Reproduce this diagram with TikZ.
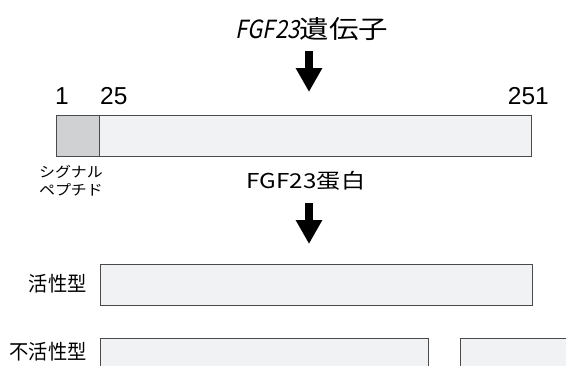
\documentclass[tikz,border=0pt]{standalone}
\usepackage{fontspec}
\setmainfont{Liberation Sans}
\newfontfamily\jp{Noto Sans CJK JP}
\newfontfamily\jpwide{Noto Sans CJK JP}[FakeStretch=1.18]
\newfontfamily\jpsmall{Noto Sans CJK JP}[FakeStretch=1.1]
\newfontfamily\jplab{Noto Sans CJK JP}[FakeStretch=0.94]
\newfontfamily\jpit{Noto Sans CJK JP}[FakeSlant=0.2,FakeStretch=0.88]
\usetikzlibrary{arrows.meta}
\definecolor{barfill}{HTML}{F1F2F4}
\definecolor{sigfill}{HTML}{D0D1D3}
\definecolor{barline}{HTML}{4A4A4A}
\tikzset{
  bar/.style={draw=barline, fill=barfill, line width=1.2pt},
  sigbar/.style={draw=barline, fill=sigfill, line width=1.2pt},
  num/.style={font=\fontsize{24.5}{28}\selectfont, inner sep=0pt, anchor=base},
  jplabel/.style={font=\jplab\fontsize{20.5}{24}\selectfont, inner sep=0pt},
  blockarrow/.style={line width=8pt, -{Triangle[length=24pt,width=25pt]}},
}
\begin{document}
\begin{tikzpicture}[x=1pt,y=-1pt]
\useasboundingbox (0,0) rectangle (566,365);
\fill[white] (0,0) rectangle (566,365);
% title
\node[inner sep=0pt, font=\fontsize{25}{28}\selectfont] (gene) at (312,29)
  {{\jpit FGF23}{\jpwide 遺伝子}};
\coordinate (a1s) at (309,51);
\coordinate (a1e) at (309,92);
\draw[blockarrow] (a1s) -- (a1e);
% numbers
\node[num] (n1) at (62,104) {1};
\node[num, anchor=base west] (n25) at (100,104) {25};
\node[num, anchor=base east] (n251) at (549,104) {251};
% main bar
\begin{scope}
\clip (0,0) rectangle (566,365);
\node[bar, minimum width=475pt, minimum height=41pt, anchor=north west, inner sep=0pt] (main) at (56,115) {};
\node[sigbar, minimum width=43pt, minimum height=41pt, anchor=north west, inner sep=0pt] (sig) at (56,115) {};
\end{scope}
% signal peptide label
\node[font=\jpsmall\fontsize{14.5}{18}\selectfont, inner sep=0pt, align=center] (siglab) at (71,180.5) {シグナル\\ペプチド};
% protein label
\node[inner sep=0pt, font=\jpwide\fontsize{20.5}{24}\selectfont] (prot) at (306,181) {FGF23蛋白};
\coordinate (a2s) at (309,203);
\coordinate (a2e) at (309,244);
\draw[blockarrow] (a2s) -- (a2e);
% active
\node[bar, minimum width=432pt, minimum height=41pt, anchor=north west, inner sep=0pt] (active) at (100,264) {};
\node[jplabel, anchor=east] (actlab) at (87,283.5) {活性型};
% inactive
\begin{scope}
\clip (0,0) rectangle (566,365);
\node[bar, minimum width=328pt, minimum height=50pt, anchor=north west, inner sep=0pt] (inact1) at (100,338) {};
\node[bar, minimum width=130pt, minimum height=50pt, anchor=north west, inner sep=0pt] (inact2) at (460,338) {};
\end{scope}
\node[jplabel, anchor=east] (inactlab) at (87,352) {不活性型};
\end{tikzpicture}
\end{document}
